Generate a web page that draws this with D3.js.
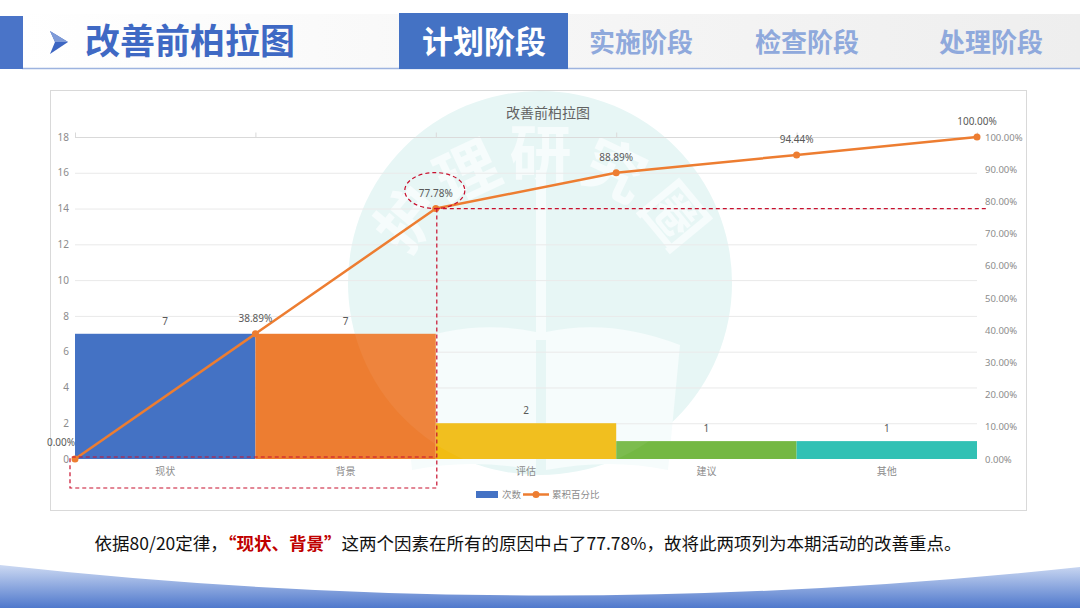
<!DOCTYPE html>
<html>
<head>
<meta charset="utf-8">
<script src="https://cdn.jsdelivr.net/npm/d3@7"></script>
<style>
  body { margin: 0; background: #fff; }
  svg { display: block; font-family: "Noto Sans CJK SC", "Noto Sans", sans-serif; }
</style>
</head>
<body>
<svg id="slide" width="1080" height="608"></svg>
<script>
// chart data
const categories = ["现状", "背景", "评估", "建议", "其他"];
const counts = [7, 7, 2, 1, 1];
const cumulative = [0, 38.89, 77.78, 88.89, 94.44, 100];
const leftTicks = [0, 2, 4, 6, 8, 10, 12, 14, 16, 18];
const rightTicks = [0, 10, 20, 30, 40, 50, 60, 70, 80, 90, 100];
const tabs = ["计划阶段", "实施阶段", "检查阶段", "处理阶段"];
const barColors = ["#4472C4", "#ED7D31", "#F1BC12", "#74B843", "#31C1B4"];

const svg = d3.select("#slide");
const defs = svg.append("defs");

// ---------- header ----------
const hg = defs.append("linearGradient").attr("id", "headBg");
hg.append("stop").attr("offset", "0%").attr("stop-color", "#ffffff");
hg.append("stop").attr("offset", "50%").attr("stop-color", "#f6f6f6");
hg.append("stop").attr("offset", "100%").attr("stop-color", "#eeeeee");

svg.append("rect").attr("x", 22).attr("y", 14).attr("width", 1058).attr("height", 54)
    .attr("fill", "url(#headBg)");
svg.append("line").attr("x1", 22).attr("x2", 1080).attr("y1", 68.5).attr("y2", 68.5)
    .attr("stroke", "#9db3df").attr("stroke-width", 1.5);
svg.append("rect").attr("x", 0).attr("y", 16).attr("width", 23).attr("height", 53)
    .attr("fill", "#4a74c8");

// arrow glyph
svg.append("path").attr("d", "M50,31 L68,42 L50,54 L55,42 Z").attr("fill", "#3d66c2");
svg.append("path").attr("d", "M50,31 L68,42 L55,42 Z").attr("fill", "#7f9bd8");

svg.append("text").attr("x", 85).attr("y", 54)
    .attr("font-size", 35).attr("font-weight", 700).attr("fill", "#3f69c4")
    .text("改善前柏拉图");

const tabX = d3.scaleOrdinal().domain(tabs).range([484, 641, 807, 991]);
svg.append("rect").attr("x", 399).attr("y", 13).attr("width", 169).attr("height", 56)
    .attr("fill", "#4472C4");
svg.selectAll("text.tab").data(tabs).join("text").attr("class", "tab")
    .attr("x", d => tabX(d)).attr("y", (d, i) => i === 0 ? 53 : 52)
    .attr("text-anchor", "middle")
    .attr("font-size", (d, i) => i === 0 ? 31 : 26)
    .attr("font-weight", 700)
    .attr("fill", (d, i) => i === 0 ? "#ffffff" : "#8fa9dc")
    .text(d => d);

// ---------- chart frame ----------
svg.append("rect").attr("x", 50.5).attr("y", 90.5).attr("width", 976).attr("height", 420)
    .attr("fill", "#fff").attr("stroke", "#d9d9d9");

// watermark (sits under the chart marks)
const wm = svg.append("g");
wm.append("circle").attr("cx", 540).attr("cy", 283).attr("r", 192).attr("fill", "#e6f6f5");
const wmw = wm.append("g").attr("fill", "#f6fcfc");
defs.append("path").attr("id", "arc").attr("d", "M395,300 A150,150 0 0 1 690,300");
wmw.append("text").attr("font-size", 62).attr("font-weight", 700).attr("letter-spacing", 4)
    .append("textPath").attr("href", "#arc").attr("startOffset", "50%")
    .attr("text-anchor", "middle").text("护理研究圈");
wmw.append("path").attr("d", "M400,345 Q470,318 536,332 L536,470 Q470,458 412,470 Z");
wmw.append("path").attr("d", "M680,345 Q610,318 546,332 L546,470 Q610,458 668,470 Z");
wmw.append("rect").attr("x", 536).attr("y", 170).attr("width", 10).attr("height", 170);

svg.append("text").attr("x", 548).attr("y", 118).attr("text-anchor", "middle")
    .attr("font-size", 14).attr("fill", "#595959").text("改善前柏拉图");

const x0 = 75, x1 = 977, yTop = 137, yBot = 459;
const x = d3.scaleBand().domain(categories).range([x0, x1]).padding(0);
const xLine = d3.scaleLinear().domain([0, cumulative.length - 1]).range([x0, x1]);
const yLeft = d3.scaleLinear().domain([0, 18]).range([yBot, yTop]);
const yRight = d3.scaleLinear().domain([0, 100]).range([yBot, yTop]);

// gridlines
svg.append("g").selectAll("line").data(leftTicks.filter(d => d > 0)).join("line")
    .attr("x1", x0).attr("x2", x1)
    .attr("y1", d => yLeft(d) + 0.5).attr("y2", d => yLeft(d) + 0.5)
    .attr("stroke", d => d === 18 ? "#d9d9d9" : "#e9e9e9");

// secondary top axis ticks
const topAxis = svg.append("g").attr("transform", `translate(0,${yTop + 0.5})`)
    .call(d3.axisTop(xLine).ticks(5).tickSize(5).tickFormat(""));
topAxis.select(".domain").remove();
topAxis.selectAll("line").attr("stroke", "#d9d9d9");

// left axis
const la = svg.append("g").attr("transform", `translate(${x0 - 6},0)`)
    .call(d3.axisLeft(yLeft).tickValues(leftTicks).tickSize(0).tickPadding(0));
la.select(".domain").remove();
la.selectAll("text").attr("font-size", 10).attr("fill", "#8c8c8c")
    .attr("font-family", "Noto Sans, sans-serif");

// right axis
const ra = svg.append("g").attr("transform", `translate(${x1 + 8},0)`)
    .call(d3.axisRight(yRight).tickValues(rightTicks).tickSize(0).tickPadding(0)
        .tickFormat(d => d.toFixed(2) + "%"));
ra.select(".domain").remove();
ra.selectAll("text").attr("font-size", 9.5).attr("fill", "#8c8c8c")
    .attr("font-family", "Noto Sans, sans-serif");

// bars
svg.append("g").selectAll("rect").data(counts).join("rect")
    .attr("x", (d, i) => x(categories[i]))
    .attr("width", x.bandwidth())
    .attr("y", d => yLeft(d))
    .attr("height", d => yBot - yLeft(d))
    .attr("fill", (d, i) => barColors[i]);

// faint tint of the watermark over the bars
svg.append("circle").attr("cx", 540).attr("cy", 283).attr("r", 192)
    .attr("fill", "#ffffff").attr("opacity", 0.06);

// category labels
svg.append("g").selectAll("text").data(categories).join("text")
    .attr("x", d => x(d) + x.bandwidth() / 2).attr("y", 475)
    .attr("text-anchor", "middle").attr("font-size", 10).attr("fill", "#8c8c8c")
    .text(d => d);

// bar value labels
svg.append("g").selectAll("text").data(counts).join("text")
    .attr("x", (d, i) => x(categories[i]) + x.bandwidth() / 2)
    .attr("y", d => yLeft(d) - 9)
    .attr("text-anchor", "middle").attr("font-size", 10).attr("fill", "#595959")
    .attr("font-family", "Noto Sans, sans-serif")
    .text(d => d);

// cumulative line
const line = d3.line().x((d, i) => xLine(i)).y(d => yRight(d));
svg.append("path").datum(cumulative).attr("d", line)
    .attr("fill", "none").attr("stroke", "#ED7D31").attr("stroke-width", 2.5)
    .attr("stroke-linejoin", "round");
svg.append("g").selectAll("circle").data(cumulative).join("circle")
    .attr("cx", (d, i) => xLine(i)).attr("cy", d => yRight(d)).attr("r", 3.5)
    .attr("fill", "#ED7D31");
svg.append("g").selectAll("text").data(cumulative).join("text")
    .attr("x", (d, i) => i === 0 ? xLine(i) - 14 : xLine(i))
    .attr("y", (d, i) => yRight(d) - (i === 0 ? 13 : 12))
    .attr("text-anchor", "middle").attr("font-size", 10).attr("fill", "#595959")
    .attr("font-family", "Noto Sans, sans-serif")
    .text(d => d.toFixed(2) + "%");

// red dashed annotations around the 80% cut
const red = "#c8102e";
const ann = svg.append("g").attr("fill", "none").attr("stroke", red)
    .attr("stroke-width", 1.2).attr("stroke-dasharray", "4,3");
ann.append("ellipse").attr("cx", xLine(2) - 1).attr("cy", yRight(cumulative[2]) - 18)
    .attr("rx", 30).attr("ry", 18);
ann.append("line").attr("x1", xLine(2)).attr("x2", 987)
    .attr("y1", yRight(cumulative[2])).attr("y2", yRight(cumulative[2]));
ann.append("path")
    .attr("d", `M${xLine(2) + 1},${yRight(cumulative[2])} V488 H70 V${yBot - 2} H${xLine(2) + 1}`);

// legend
const lg = svg.append("g").attr("font-size", 9.5).attr("fill", "#8c8c8c");
lg.append("rect").attr("x", 476).attr("y", 491).attr("width", 22).attr("height", 7).attr("fill", "#4472C4");
lg.append("text").attr("x", 502).attr("y", 498).text("次数");
lg.append("line").attr("x1", 523).attr("x2", 549).attr("y1", 494.5).attr("y2", 494.5)
    .attr("stroke", "#ED7D31").attr("stroke-width", 2.5);
lg.append("circle").attr("cx", 536).attr("cy", 494.5).attr("r", 3.5).attr("fill", "#ED7D31");
lg.append("text").attr("x", 552).attr("y", 498).text("累积百分比");

// ---------- conclusion ----------
const note = svg.append("text").attr("x", 528).attr("y", 550).attr("text-anchor", "middle")
    .attr("font-size", 17.5).attr("fill", "#111");
note.append("tspan").text("依据80/20定律，");
note.append("tspan").attr("fill", "#c00000").attr("font-weight", 700).text("“现状、背景”");
note.append("tspan").text("这两个因素在所有的原因中占了77.78%，故将此两项列为本期活动的改善重点。");

// ---------- bottom wave ----------
const bg = defs.append("linearGradient").attr("id", "wave").attr("x1", 0).attr("y1", 0).attr("x2", 0).attr("y2", 1);
bg.append("stop").attr("offset", "0%").attr("stop-color", "#d5e0f5");
bg.append("stop").attr("offset", "100%").attr("stop-color", "#4f78cc");
svg.append("rect").attr("x", 0).attr("y", 562).attr("width", 1080).attr("height", 46).attr("fill", "url(#wave)");
svg.append("path").attr("d", "M0,560 L0,565 Q540,625 1080,567 L1080,560 Z").attr("fill", "#fff");
</script>
</body>
</html>
